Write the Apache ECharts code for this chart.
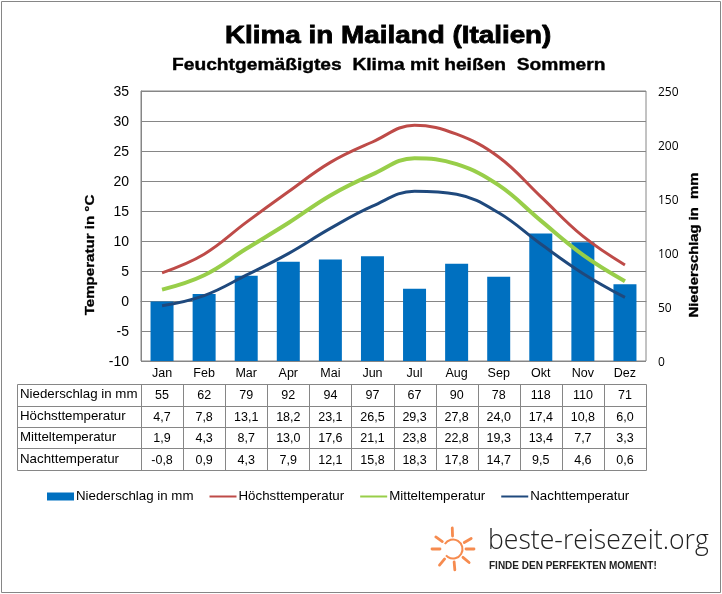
<!DOCTYPE html>
<html lang="de">
  <head>
    <meta charset="UTF-8" />
    <title>Klima in Mailand</title>
    <style>
      html, body { margin: 0; padding: 0; background: #fff; }
      #main { width: 722px; height: 594px; }
    </style>
  </head>
  <body>
    <div id="main"></div>
    <script src="https://cdn.jsdelivr.net/npm/echarts@6/dist/echarts.min.js"></script>
    <script>
      const months = ["Jan", "Feb", "Mar", "Apr", "Mai", "Jun", "Jul", "Aug", "Sep", "Okt", "Nov", "Dez"];
      const rain = [55, 62, 79, 92, 94, 97, 67, 90, 78, 118, 110, 71];
      const high = [4.7, 7.8, 13.1, 18.2, 23.1, 26.5, 29.3, 27.8, 24.0, 17.4, 10.8, 6.0];
      const mean = [1.9, 4.3, 8.7, 13.0, 17.6, 21.1, 23.8, 22.8, 19.3, 13.4, 7.7, 3.3];
      const low = [-0.8, 0.9, 4.3, 7.9, 12.1, 15.8, 18.3, 17.8, 14.7, 9.5, 4.6, 0.6];

      const rainName = "Niederschlag in mm";
      const highName = "Höchsttemperatur";
      const meanName = "Mitteltemperatur";
      const lowName = "Nachttemperatur";

      const font = "Liberation Sans";
      const lineGray = "#868686";
      const sunColor = "#F68B4F";
      const plotLeft = 141;
      const plotWidth = 505;
      const colWidth = plotWidth / 12;

      const comma = (v) => v.toFixed(1).replace(".", ",");
      const tableRows = [
        { label: rainName, cells: rain.map(String), y: 395 },
        { label: highName, cells: high.map(comma), y: 417 },
        { label: meanName, cells: mean.map(comma), y: 438 },
        { label: lowName, cells: low.map(comma), y: 460 },
      ];
      const rowLines = [384.5, 406.5, 427.5, 448.5, 470.5];

      const graphic = [];

      // stretched bold text, the title and axis names are wider than the font
      const wideText = (text, x, y, size, scale, align, rotation, stroke) => ({
        type: "text",
        silent: true,
        x: x,
        y: y,
        rotation: rotation,
        scaleX: scale,
        style: {
          text: text,
          fontFamily: font,
          fontWeight: "bold",
          fontSize: size,
          fill: "#000",
          stroke: "#000",
          lineWidth: stroke,
          textAlign: align,
          textVerticalAlign: "middle",
        },
      });
      graphic.push(wideText("Klima in Mailand (Italien)", 225, 36, 24, 1.16, "left", 0, 0.8));
      graphic.push(wideText("Feuchtgemäßigtes  Klima mit heißen  Sommern", 172, 65, 17, 1.13, "left", 0, 0.4));
      graphic.push(wideText("Temperatur in °C", 90, 255, 13, 1.16, "center", Math.PI / 2, 0.3));
      graphic.push(wideText("Niederschlag in  mm", 694, 245, 13, 1.14, "center", Math.PI / 2, 0.3));

      // table under the axis
      rowLines.forEach((y) => {
        graphic.push({
          type: "line",
          silent: true,
          shape: { x1: 17.5, y1: y, x2: plotLeft + plotWidth + 0.5, y2: y },
          style: { stroke: lineGray, lineWidth: 1 },
        });
      });
      [17.5, plotLeft + 0.5].concat(months.map((m, i) => Math.round(plotLeft + colWidth * (i + 1)) + 0.5)).forEach((x) => {
        graphic.push({
          type: "line",
          silent: true,
          shape: { x1: x, y1: rowLines[0], x2: x, y2: rowLines[4] },
          style: { stroke: lineGray, lineWidth: 1 },
        });
      });
      tableRows.forEach((row) => {
        graphic.push({
          type: "text",
          silent: true,
          style: {
            x: 20,
            y: row.y - 1,
            text: row.label,
            fontFamily: font,
            fontSize: 13.3,
            fill: "#000",
            textAlign: "left",
            textVerticalAlign: "middle",
          },
        });
        row.cells.forEach((cell, i) => {
          graphic.push({
            type: "text",
            silent: true,
            style: {
              x: plotLeft + colWidth * (i + 0.5),
              y: row.y + 1,
              text: cell,
              fontFamily: font,
              fontSize: 12.5,
              fill: "#000",
              textAlign: "center",
              textVerticalAlign: "middle",
            },
          });
        });
      });

      // logo
      const sunX = 453;
      const sunY = 549;
      [-92, -30, 0, 40, 85, 130, 180, 215].forEach((deg) => {
        const a = (deg * Math.PI) / 180;
        graphic.push({
          type: "line",
          silent: true,
          shape: {
            x1: sunX + Math.cos(a) * 13,
            y1: sunY + Math.sin(a) * 13,
            x2: sunX + Math.cos(a) * 21,
            y2: sunY + Math.sin(a) * 21,
          },
          style: { stroke: sunColor, lineWidth: 2.8, lineCap: "round" },
        });
      });
      graphic.push({
        type: "arc",
        silent: true,
        shape: { cx: sunX, cy: sunY, r: 9.5, startAngle: -2.6, endAngle: 2.4 },
        style: { stroke: sunColor, fill: "none", lineWidth: 2 },
      });
      graphic.push({
        type: "text",
        silent: true,
        style: {
          x: 488,
          y: 541,
          text: "beste-reisezeit.org",
          fontFamily: "Open Sans",
          fontWeight: 300,
          fontSize: 26.6,
          fill: "#222",
          textVerticalAlign: "middle",
        },
      });
      graphic.push({
        type: "text",
        silent: true,
        style: {
          x: 489,
          y: 566,
          text: "FINDE DEN PERFEKTEN MOMENT!",
          fontFamily: font,
          fontWeight: "bold",
          fontSize: 10,
          fill: "#222",
          textVerticalAlign: "middle",
        },
      });
      // outer frame
      graphic.push({
        type: "rect",
        silent: true,
        z: -1,
        shape: { x: 1.5, y: 1.5, width: 719, height: 591 },
        style: { fill: "none", stroke: lineGray, lineWidth: 1 },
      });

      const lineSeries = (name, data, color, width) => ({
        name: name,
        type: "line",
        data: data,
        smooth: 0.4,
        symbol: "none",
        lineStyle: { color: color, width: width },
        itemStyle: { color: color },
      });

      const myChart = echarts.init(document.getElementById("main"));
      myChart.setOption({
        animation: false,
        backgroundColor: "#fff",
        textStyle: { fontFamily: font },
        grid: { left: plotLeft, top: 91, width: plotWidth, height: 270, show: true, borderColor: lineGray, borderWidth: 1, backgroundColor: "transparent" },
        legend: {
          left: 47,
          top: 490,
          padding: 0,
          itemWidth: 27,
          itemHeight: 8,
          itemGap: 15,
          textStyle: { fontFamily: font, fontSize: 13.3, color: "#000", padding: [0, 0, 0, -3] },
          data: [
            { name: rainName, icon: "rect" },
            { name: highName, itemStyle: { opacity: 0 } },
            { name: meanName, itemStyle: { opacity: 0 } },
            { name: lowName, itemStyle: { opacity: 0 } },
          ],
        },
        xAxis: {
          type: "category",
          data: months,
          axisLine: { lineStyle: { color: lineGray } },
          axisTick: { length: 23, lineStyle: { color: lineGray } },
          axisLabel: { color: "#000", fontSize: 12.5, margin: 6 },
        },
        yAxis: [
          {
            type: "value",
            min: -10,
            max: 35,
            interval: 5,
            axisLine: { show: true, lineStyle: { color: lineGray } },
            axisTick: { show: false },
            axisLabel: {
              margin: 12,
              formatter: "{a|{value}}",
              rich: { a: { color: "#000", fontFamily: font, fontSize: 14, padding: [2, 0, 0, 0] } },
            },
            splitLine: { lineStyle: { color: lineGray } },
          },
          {
            type: "value",
            min: 0,
            max: 250,
            interval: 50,
            axisLine: { show: false },
            axisTick: { show: false },
            axisLabel: {
              margin: 12,
              formatter: "{a|{value}}",
              rich: { a: { color: "#000", fontFamily: "Open Sans", fontSize: 12, padding: [4, 0, 0, 0] } },
            },
            splitLine: { show: false },
          },
        ],
        series: [
          {
            name: rainName,
            type: "bar",
            yAxisIndex: 1,
            data: rain,
            barWidth: 23,
            itemStyle: { color: "#0070C0" },
          },
          lineSeries(highName, high, "#BE4B48", 3),
          lineSeries(meanName, mean, "#98CE49", 4),
          lineSeries(lowName, low, "#1F497D", 3),
        ],
        graphic: graphic,
      });
    </script>
  </body>
</html>
